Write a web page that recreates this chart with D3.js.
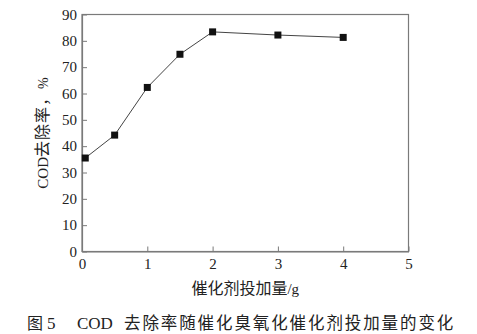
<!DOCTYPE html>
<html>
<head>
<meta charset="utf-8">
<script src="https://cdn.jsdelivr.net/npm/d3@7/dist/d3.min.js"></script>
<style>
  html, body { margin: 0; padding: 0; background: #fff; }
  svg { display: block; }
</style>
</head>
<body>
<svg id="chart" width="477" height="334"></svg>
<script>
// Catalyst dosage (g) and COD removal rate (%)
const dosage = [0.05, 0.5, 1.0, 1.5, 2.0, 3.0, 4.0];
const removal = [35.5, 44.2, 62.3, 74.9, 83.4, 82.2, 81.3];
const xTicks = [0, 1, 2, 3, 4, 5];
const yTicks = [0, 10, 20, 30, 40, 50, 60, 70, 80, 90];

const svg = d3.select("#chart");
const plotL = 82, plotR = 408.5, plotT = 14.5, plotB = 251.5;
const serif = "'Liberation Serif', 'DejaVu Serif', serif";
const cjk = "'Noto Sans CJK SC', sans-serif";
const axisColor = "#7a7a7a";

const x = d3.scaleLinear().domain([0, 5]).range([plotL, plotR]);
const y = d3.scaleLinear().domain([0, 90]).range([plotB, plotT]);

// frame
svg.append("rect")
  .attr("x", plotL).attr("y", plotT)
  .attr("width", plotR - plotL).attr("height", plotB - plotT)
  .attr("fill", "none").attr("stroke", axisColor).attr("stroke-width", 1.2);

// bottom axis, ticks pointing inward
const xAxis = svg.append("g")
  .attr("transform", `translate(0,${plotB})`)
  .call(d3.axisBottom(x).tickValues(xTicks).tickFormat(d3.format("d"))
    .tickSizeInner(-5).tickSizeOuter(0).tickPadding(7));
xAxis.select(".domain").attr("stroke", axisColor).attr("stroke-width", 1.2);
xAxis.selectAll(".tick line").attr("stroke", axisColor);
xAxis.selectAll(".tick text")
  .attr("font-family", serif).attr("font-size", 15).attr("fill", "#222");

// left axis, ticks pointing inward
const yAxis = svg.append("g")
  .attr("transform", `translate(${plotL},0)`)
  .call(d3.axisLeft(y).tickValues(yTicks).tickFormat(d3.format("d"))
    .tickSizeInner(-5).tickSizeOuter(0).tickPadding(5));
yAxis.select(".domain").attr("stroke", axisColor).attr("stroke-width", 1.2);
yAxis.selectAll(".tick line").attr("stroke", axisColor);
yAxis.selectAll(".tick text")
  .attr("font-family", serif).attr("font-size", 15).attr("fill", "#222");

// data line
const pts = dosage.map((d, i) => [d, removal[i]]);
svg.append("path")
  .datum(pts)
  .attr("fill", "none")
  .attr("stroke", "#444")
  .attr("stroke-width", 1)
  .attr("d", d3.line().x(d => x(d[0])).y(d => y(d[1])));

// square markers
const ms = 7;
svg.selectAll("rect.pt")
  .data(pts)
  .enter().append("rect")
  .attr("class", "pt")
  .attr("x", d => x(d[0]) - ms / 2)
  .attr("y", d => y(d[1]) - ms / 2)
  .attr("width", ms).attr("height", ms)
  .attr("fill", "#111");

// x axis title
const xt = svg.append("text")
  .attr("x", (plotL + plotR) / 2).attr("y", 294)
  .attr("text-anchor", "middle").attr("fill", "#222");
xt.append("tspan").attr("font-family", cjk).attr("font-size", 16).text("催化剂投加量");
xt.append("tspan").attr("font-family", serif).attr("font-size", 15).text("/g");

// y axis title
const yt = svg.append("text")
  .attr("transform", `translate(48,${(plotT + plotB) / 2}) rotate(-90)`)
  .attr("text-anchor", "middle").attr("fill", "#222");
yt.append("tspan").attr("font-family", serif).attr("font-size", 15).text("COD");
yt.append("tspan").attr("font-family", cjk).attr("font-size", 16).attr("letter-spacing", 1).text("去除率，");
yt.append("tspan").attr("font-family", serif).attr("font-size", 14).text("%");

// figure caption
const cap = svg.append("text").attr("y", 329).attr("fill", "#222");
cap.append("tspan").attr("x", 27).attr("font-family", cjk).attr("font-size", 16).text("图");
cap.append("tspan").attr("x", 47).attr("font-family", serif).attr("font-size", 17).text("5");
cap.append("tspan").attr("x", 77).attr("font-family", serif).attr("font-size", 17).text("COD");
cap.append("tspan").attr("x", 124).attr("font-family", cjk).attr("font-size", 16.5)
  .attr("letter-spacing", 1.9).text("去除率随催化臭氧化催化剂投加量的变化");
</script>
</body>
</html>
